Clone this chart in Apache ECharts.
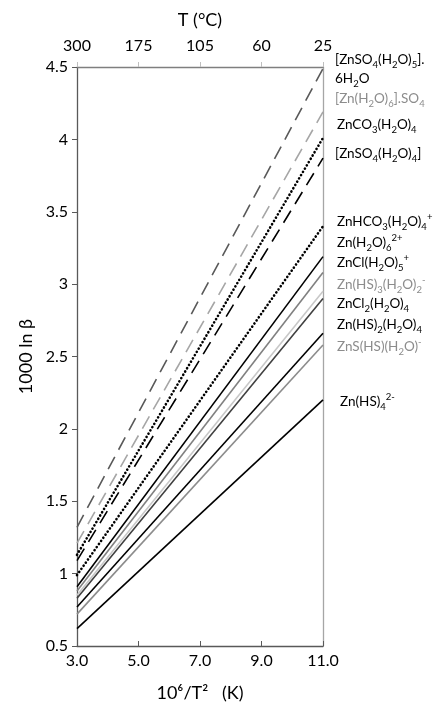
<!DOCTYPE html>
<html><head><meta charset="utf-8">
<script src="https://cdn.jsdelivr.net/npm/echarts@6/dist/echarts.min.js"></script>
<style>html,body{margin:0;padding:0;background:#fff}#c{width:433px;height:707px}</style>
</head><body><div id="c"></div>
<script>
// ---- data ----
const xRange = [3, 11];
const xTicks = [3, 5, 7, 9, 11];
const topTickLabels = ['300', '175', '105', '60', '25'];
const seriesNames = ['[ZnSO4(H2O)5].6H2O', '[Zn(H2O)6].SO4', 'ZnCO3(H2O)4', '[ZnSO4(H2O)4]', 'ZnHCO3(H2O)4+',
  'Zn(H2O)6 2+', 'ZnCl(H2O)5+', 'Zn(HS)3(H2O)2-', 'ZnCl2(H2O)4', 'Zn(HS)2(H2O)4', 'ZnS(HS)(H2O)-', 'Zn(HS)4 2-'];
const valuesAt3 = [1.32, 1.21, 1.13, 1.09, 0.99, 0.91, 0.88, 0.85, 0.83, 0.77, 0.72, 0.62];
const valuesAt11 = [4.49, 4.19, 4.01, 3.87, 3.40, 3.19, 3.08, 2.95, 2.90, 2.66, 2.58, 2.20];

// ---- styles ----
const lineColors = ['#595959', '#a6a6a6', '#000', '#000', '#000', '#000', '#808080', '#c8c8c8', '#404040', '#000', '#8c8c8c', '#000'];
const lineTypes = ['dash', 'dash', 'dot', 'dash', 'dot', 'solid', 'solid', 'solid', 'solid', 'solid', 'solid', 'solid'];

const FONT = 'Lato, "Open Sans", sans-serif';
const chart = echarts.init(document.getElementById('c'));

const series = seriesNames.map((n, i) => {
  const t = lineTypes[i];
  return {
    name: n, type: 'line', xAxisIndex: 0, yAxisIndex: 0, symbol: 'none', silent: true,
    data: [[xRange[0], valuesAt3[i]], [xRange[1], valuesAt11[i]]],
    lineStyle: {
      color: lineColors[i],
      width: t === 'dot' ? 2.6 : 1.6,
      type: t === 'dash' ? [14, 8] : (t === 'dot' ? [0.1, 3.7] : 'solid'),
      cap: t === 'dot' ? 'round' : 'butt'
    }
  };
});

const rich = {
  n: {fontSize: 13.5, fontFamily: FONT, lineHeight: 20},
  s: {fontSize: 9.5, fontFamily: FONT, verticalAlign: 'bottom', lineHeight: 19},
  p: {fontSize: 9.5, fontFamily: FONT, verticalAlign: 'top', lineHeight: 20}
};
function lbl(text, x, y, color) {
  const r = {};
  for (const k in rich) r[k] = Object.assign({}, rich[k], {fill: color});
  return {type: 'text', left: x, top: y - 10, style: {text: text, rich: r, fill: color}};
}
const labels = [
  ['{n|[ZnSO}{s|4}{n|(H}{s|2}{n|O)}{s|5}{n|].}', 335, 63, '#000'],
  ['{n|6H}{s|2}{n|O}', 335, 82, '#000'],
  ['{n|[Zn(H}{s|2}{n|O)}{s|6}{n|].SO}{s|4}', 335, 102, '#8c8c8c'],
  ['{n|ZnCO}{s|3}{n|(H}{s|2}{n|O)}{s|4}', 337, 128, '#000'],
  ['{n|[ZnSO}{s|4}{n|(H}{s|2}{n|O)}{s|4}{n|]}', 335, 157, '#000'],
  ['{n|ZnHCO}{s|3}{n|(H}{s|2}{n|O)}{s|4}{p|+}', 337, 222, '#000'],
  ['{n|Zn(H}{s|2}{n|O)}{s|6}{p|2+}', 337, 243, '#000'],
  ['{n|ZnCl(H}{s|2}{n|O)}{s|5}{p|+}', 337, 263, '#000'],
  ['{n|Zn(HS)}{s|3}{n|(H}{s|2}{n|O)}{s|2}{p|-}', 337, 285, '#8c8c8c'],
  ['{n|ZnCl}{s|2}{n|(H}{s|2}{n|O)}{s|4}', 337, 307, '#000'],
  ['{n|Zn(HS)}{s|2}{n|(H}{s|2}{n|O)}{s|4}', 337, 328, '#000'],
  ['{n|ZnS(HS)(H}{s|2}{n|O)}{p|-}', 337, 347, '#8c8c8c'],
  ['{n|Zn(HS)}{s|4}{p|2-}', 340, 402, '#000']
].map(a => lbl(a[0], a[1], a[2], a[3]));

const axisTextColor = '#000';
chart.setOption({
  animation: false,
  backgroundColor: '#fff',
  grid: {left: 77, right: 110, top: 67, bottom: 56},
  xAxis: [{
    type: 'value', position: 'bottom', min: xRange[0], max: xRange[1], interval: 2,
    axisLine: {show: true, lineStyle: {color: '#595959', width: 1.3}},
    axisTick: {show: true, inside: true, length: 5, lineStyle: {color: '#595959'}},
    splitLine: {show: false},
    axisLabel: {color: axisTextColor, fontSize: 16, fontFamily: FONT, margin: 7, formatter: v => v.toFixed(1)},
    name: '10\u2076/T\u00B2   (K)', nameLocation: 'middle', nameGap: 38,
    nameTextStyle: {color: axisTextColor, fontSize: 18, fontFamily: FONT}
  }, {
    type: 'value', position: 'top', min: xRange[0], max: xRange[1], interval: 2,
    axisLine: {show: true, onZero: false, lineStyle: {color: '#7f7f7f', width: 1.3}},
    axisTick: {show: true, inside: false, length: 5, lineStyle: {color: '#bfbfbf'}},
    splitLine: {show: false},
    axisLabel: {color: axisTextColor, fontSize: 16, fontFamily: FONT, margin: 13,
      formatter: v => topTickLabels[xTicks.indexOf(Math.round(v))] || ''},
    name: 'T (\u00B0C)', nameLocation: 'middle', nameGap: 38,
    nameTextStyle: {color: axisTextColor, fontSize: 18, fontFamily: FONT}
  }],
  yAxis: [{
    type: 'value', position: 'left', min: 0.5, max: 4.5, interval: 0.5,
    axisLine: {show: true, lineStyle: {color: '#595959', width: 1.3}},
    axisTick: {show: true, inside: false, length: 5, lineStyle: {color: '#595959'}},
    splitLine: {show: false},
    axisLabel: {color: axisTextColor, fontSize: 16, fontFamily: FONT, margin: 9},
    name: '1000 ln \u03B2', nameLocation: 'middle', nameGap: 38, nameRotate: 90,
    nameTextStyle: {color: axisTextColor, fontSize: 18, fontFamily: FONT}
  }, {
    type: 'value', position: 'right', min: 0.5, max: 4.5, interval: 0.5,
    axisLine: {show: true, onZero: false, lineStyle: {color: '#a6a6a6', width: 1.3}},
    axisTick: {show: false}, axisLabel: {show: false}, splitLine: {show: false}
  }],
  series: series,
  graphic: labels
});
</script></body></html>
